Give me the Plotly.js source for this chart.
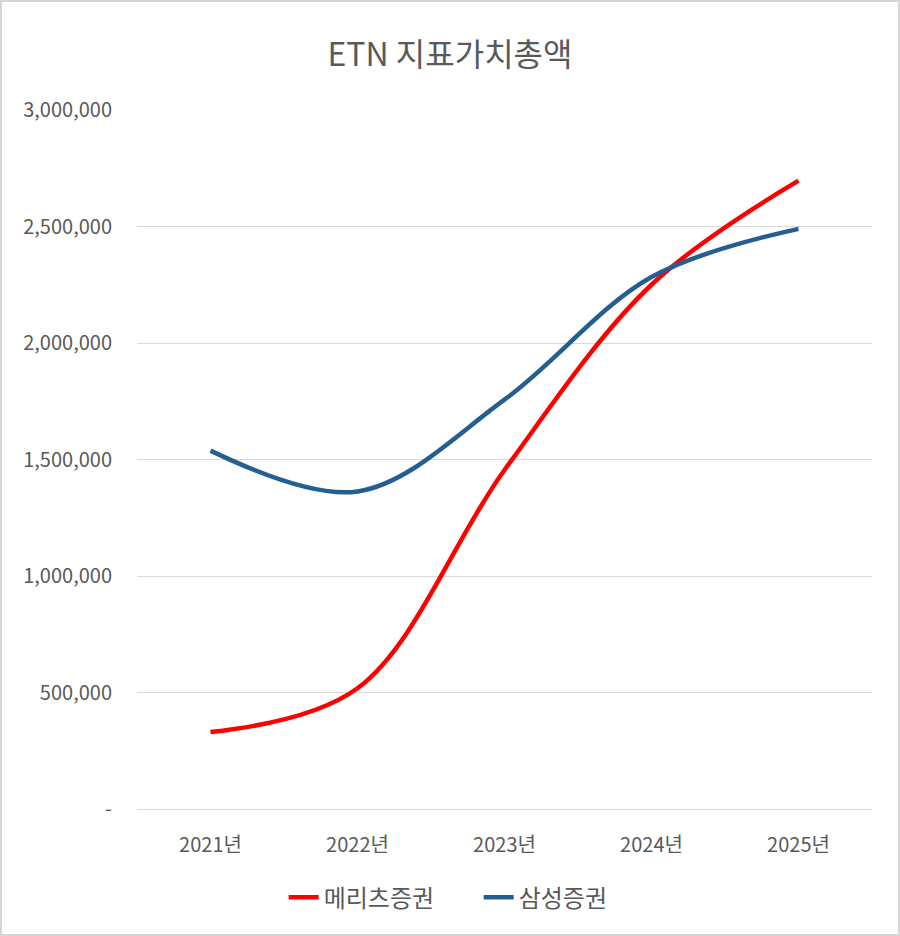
<!DOCTYPE html>
<html>
<head>
<meta charset="utf-8">
<script src="https://cdn.plot.ly/plotly-3.0.1.min.js"></script>
<style>
  body { margin: 0; background: #fff; }
  #chart { width: 896px; height: 932px; border: 2px solid #d6d6d6; }
</style>
</head>
<body>
<div id="chart"></div>
<script>
var years = ["2021년", "2022년", "2023년", "2024년", "2025년"];
var meritz = [330000, 518000, 1455000, 2250000, 2697000];
var samsung = [1538000, 1363000, 1757000, 2283000, 2490000];
var yTickVals = [0, 500000, 1000000, 1500000, 2000000, 2500000, 3000000];
var yTickText = ["-", "500,000", "1,000,000", "1,500,000", "2,000,000", "2,500,000", "3,000,000"];

var font = "Noto Sans CJK KR, Noto Sans, sans-serif";

var data = [
  {
    type: "scatter", mode: "lines", name: "메리츠증권",
    x: years, y: meritz,
    line: { color: "#ff0000", width: 4.5, shape: "spline", smoothing: 1 }
  },
  {
    type: "scatter", mode: "lines", name: "삼성증권",
    x: years, y: samsung,
    line: { color: "#255e91", width: 4.5, shape: "spline", smoothing: 1 }
  }
];

var layout = {
  width: 896,
  height: 932,
  margin: { l: 135, r: 26, t: 108, b: 125 },
  paper_bgcolor: "#ffffff",
  plot_bgcolor: "#ffffff",
  font: { family: font, color: "#595959", size: 16 },
  title: {
    text: "ETN 지표가치총액",
    font: { family: font, size: 32, color: "#595959" },
    x: 0.5, xref: "container", xanchor: "center",
    y: 0.943, yref: "container", yanchor: "middle"
  },
  xaxis: {
    type: "category",
    range: [-0.5, 4.5],
    showgrid: false,
    showline: false,
    zeroline: false,
    ticks: "",
    ticklabelstandoff: 22,
    tickfont: { family: font, size: 20, color: "#595959" }
  },
  yaxis: {
    range: [0, 3000000],
    tickvals: yTickVals,
    ticktext: yTickText,
    showgrid: true,
    gridcolor: "#d9d9d9",
    gridwidth: 1,
    zeroline: true,
    zerolinecolor: "#d9d9d9",
    zerolinewidth: 1,
    showline: false,
    ticks: "",
    ticklabelstandoff: 24,
    tickfont: { family: font, size: 20, color: "#595959" }
  },
  showlegend: true,
  legend: {
    orientation: "h",
    xref: "container", x: 0.532, xanchor: "center",
    yref: "container", y: 0.039, yanchor: "middle",
    font: { family: font, size: 24, color: "#595959" },
    entrywidth: 150
  }
};

Plotly.newPlot("chart", data, layout, { displayModeBar: false, staticPlot: true });
</script>
</body>
</html>
